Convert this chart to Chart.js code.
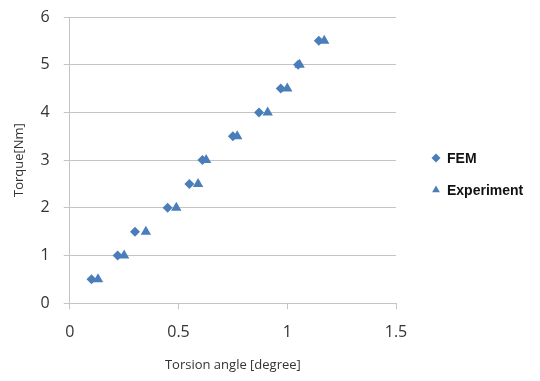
<!DOCTYPE html>
<html>
<head>
<meta charset="utf-8">
<script src="https://cdn.jsdelivr.net/npm/chart.js@4"></script>
<style>
  html, body { margin: 0; padding: 0; background: #fff; }
  #wrap { width: 540px; height: 381px; }
</style>
</head>
<body>
<div id="wrap"><canvas id="torqueChart" width="540" height="381"></canvas></div>
<script>
// torque levels (Nm)
const torqueLevels = [0.5, 1, 1.5, 2, 2.5, 3, 3.5, 4, 4.5, 5, 5.5];
// torsion angle (degree)
const femAngles = [0.10, 0.22, 0.30, 0.45, 0.55, 0.61, 0.75, 0.87, 0.97, 1.05, 1.145];
const expAngles = [0.13, 0.25, 0.35, 0.49, 0.59, 0.627, 0.77, 0.91, 1.00, 1.057, 1.17];
const xTicks = [0, 0.5, 1, 1.5];
const yTicks = [0, 1, 2, 3, 4, 5, 6];

const markColor = '#4a7ebb';
const gridColor = '#c4c4c4';

function toPoints(xs, ys) {
    return xs.map((x, i) => ({ x: x, y: ys[i] }));
}

// legend on the right, drawn by hand so it sits where the original one does
const sideLegend = {
    id: 'sideLegend',
    afterDraw(chart) {
        const c = chart.ctx;
        c.save();
        c.font = 'bold 14px "Liberation Sans"';
        c.textBaseline = 'middle';
        chart.data.datasets.forEach((ds, i) => {
            const y = 158 + i * 32;
            c.fillStyle = ds.backgroundColor;
            c.strokeStyle = ds.backgroundColor;
            Chart.helpers.drawPoint(c, { pointStyle: ds.pointStyle, radius: 4.5, rotation: 0, borderWidth: 0 }, 436, y);
            c.fillStyle = '#111';
            c.fillText(ds.label, 447, y + 1);
        });
        c.restore();
    },
};

const ctx = document.getElementById('torqueChart').getContext('2d');
const torqueChart = new Chart(ctx, {
    type: 'scatter',
    data: {
        datasets: [
            {
                label: 'FEM',
                data: toPoints(femAngles, torqueLevels),
                pointStyle: 'rectRot',
                pointRadius: 5,
                backgroundColor: markColor,
                borderColor: markColor,
                borderWidth: 0,
            },
            {
                label: 'Experiment',
                data: toPoints(expAngles, torqueLevels),
                pointStyle: 'triangle',
                pointRadius: 6,
                backgroundColor: markColor,
                borderColor: markColor,
                borderWidth: 0,
            },
        ],
    },
    options: {
        responsive: false,
        animation: false,
        layout: { padding: { top: 17, left: 11, right: 144, bottom: 8 } },
        scales: {
            x: {
                type: 'linear',
                min: 0,
                max: 1.5,
                afterBuildTicks: axis => { axis.ticks = xTicks.map(v => ({ value: v })); },
                grid: { drawOnChartArea: false, drawTicks: true, tickLength: 6, color: gridColor },
                border: { color: gridColor },
                ticks: { color: '#333', font: { family: 'Open Sans', size: 16 }, padding: 14, callback: v => String(v) },
                title: {
                    display: true,
                    text: 'Torsion angle [degree]',
                    color: '#333',
                    font: { family: 'Open Sans', size: 13 },
                    padding: { top: 1, bottom: 0 },
                },
            },
            y: {
                min: 0,
                max: 6,
                afterBuildTicks: axis => { axis.ticks = yTicks.map(v => ({ value: v })); },
                afterFit: axis => { axis.paddingTop = 0; },
                grid: { color: gridColor, tickLength: 6 },
                border: { color: gridColor },
                ticks: { color: '#333', font: { family: 'Open Sans', size: 16 }, padding: 14, callback: v => String(v) },
                title: {
                    display: true,
                    text: 'Torque[Nm]',
                    color: '#333',
                    font: { family: 'Open Sans', size: 13 },
                    padding: { top: 0, bottom: 0 },
                },
            },
        },
        plugins: {
            tooltip: { enabled: false },
            legend: { display: false },
        },
    },
    plugins: [sideLegend],
});
</script>
</body>
</html>
